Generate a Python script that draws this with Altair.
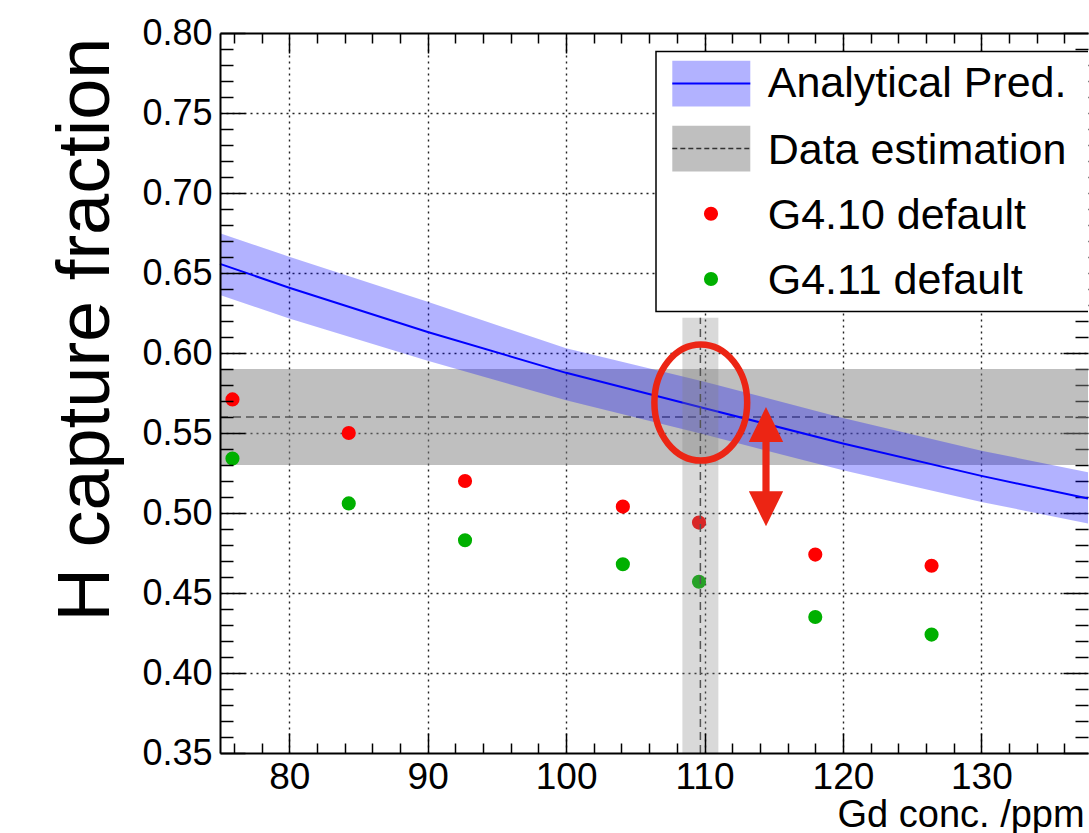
import altair as alt
import pandas as pd

# ---------------- data ----------------
gd_sim = [75.9, 84.3, 92.7, 104.1, 109.6, 118.0, 126.4]          # Gd conc. (ppm)
g4_10 = [0.571, 0.550, 0.520, 0.504, 0.494, 0.474, 0.467]        # G4.10 default
g4_11 = [0.534, 0.506, 0.483, 0.468, 0.457, 0.435, 0.424]        # G4.11 default

pred_x = [75, 80, 90, 100, 110, 120, 130, 137.7]
pred_mid = [0.6557, 0.6408, 0.6131, 0.5876, 0.5655, 0.5434, 0.5232, 0.5090]
pred_hi = [0.6748, 0.6602, 0.6320, 0.6029, 0.5820, 0.5594, 0.5389, 0.5255]
pred_lo = [0.6362, 0.6216, 0.5951, 0.5705, 0.5490, 0.5267, 0.5069, 0.4935]

data_est = [0.53, 0.56, 0.59]            # H fraction estimate: low, central, high
gd_meas = [108.4, 109.7, 111.0]          # measured Gd conc.: low, central, high
gd_meas_ytop = 0.622

ellipse_at = [109.73, 0.569]
arrow_at = [114.44, 0.529]

x_domain = [75, 137.7]
y_domain = [0.35, 0.80]
x_major = [80, 90, 100, 110, 120, 130]
x_minor = [v for v in range(76, 138, 2) if v % 10 != 0]
y_major = [round(0.35 + 0.05 * i, 2) for i in range(10)]
y_minor = [round(0.35 + 0.01 * i, 2) for i in range(46) if i % 5 != 0]
y_grid = [v for v in y_major if 0.36 < v < 0.79]

legend_labels = ["Analytical Pred.", "Data estimation", "G4.10 default", "G4.11 default"]

# ---------------- layout ----------------
W, H = 868, 720
FONT = "Liberation Sans"
RED = "#ec2514"
DOT = 200
XS = alt.Scale(domain=x_domain, nice=False, zero=False)
YS = alt.Scale(domain=y_domain, nice=False, zero=False)

one = pd.DataFrame({"k": [0]})


def xaxis_layer(values, **kw):
    base = dict(values=values, title=None, labels=False, ticks=False, grid=False,
                domain=False, labelFlush=False, labelOverlap=False)
    base.update(kw)
    return alt.Chart(pd.DataFrame({"v": values})).mark_point(opacity=0).encode(
        x=alt.X("v:Q", scale=XS, axis=alt.Axis(**base)))


def yaxis_layer(values, **kw):
    base = dict(values=values, title=None, labels=False, ticks=False, grid=False,
                domain=False, labelFlush=False, labelOverlap=False)
    base.update(kw)
    return alt.Chart(pd.DataFrame({"v": values})).mark_point(opacity=0).encode(
        y=alt.Y("v:Q", scale=YS, axis=alt.Axis(**base)))


tick_style = dict(ticks=True, tickColor="black", tickWidth=1.5)

axes = [
    # grids
    xaxis_layer(x_major, orient="bottom", grid=True, gridDash=[2, 4], gridColor="#222",
                gridWidth=1.4, zindex=0),
    yaxis_layer(y_grid, orient="left", grid=True, gridDash=[2, 4], gridColor="#222",
                gridWidth=1.4, zindex=0),
    # frame lines + titles
    xaxis_layer(x_major, orient="bottom", domain=True, domainColor="black", domainWidth=2,
                zindex=1, title="Gd conc. /ppm", titleFont=FONT, titleFontSize=38,
                titleFontWeight="normal", titleColor="black", titleAlign="left",
                titleX=617, titleY=73, titleBaseline="alphabetic"),
    xaxis_layer(x_major, orient="top", domain=True, domainColor="black", domainWidth=2, zindex=1),
    yaxis_layer(y_major, orient="left", domain=True, domainColor="black", domainWidth=2,
                zindex=1, title="H capture fraction", titleFont=FONT, titleFontSize=74,
                titleFontWeight="normal", titleColor="black", titleAngle=270,
                titleAlign="right", titleBaseline="alphabetic", titleX=-112, titleY=4),
    # bottom ticks + labels
    xaxis_layer(x_major, orient="bottom", tickSize=20, offset=-20, labels=True,
                labelFont=FONT, labelFontSize=37, labelColor="black", labelPadding=6,
                zindex=1, **tick_style),
    xaxis_layer(x_minor, orient="bottom", tickSize=10, offset=-10, zindex=1, **tick_style),
    # top ticks
    xaxis_layer(x_major, orient="top", tickSize=20, offset=-20, zindex=0, **tick_style),
    xaxis_layer(x_minor, orient="top", tickSize=10, offset=-10, zindex=0, **tick_style),
    # left ticks + labels
    yaxis_layer(y_major, orient="left", tickSize=25, offset=-25, labels=True, format=".2f",
                labelFont=FONT, labelFontSize=36, labelColor="black", labelPadding=8,
                zindex=1, **tick_style),
    yaxis_layer(y_minor, orient="left", tickSize=13, offset=-13, zindex=1, **tick_style),
    # right ticks
    yaxis_layer(y_major, orient="right", tickSize=25, offset=-25, zindex=0, **tick_style),
    yaxis_layer(y_minor, orient="right", tickSize=13, offset=-13, zindex=0, **tick_style),
]

# ---------------- data layers ----------------
est_df = pd.DataFrame({"lo": [data_est[0]], "mid": [data_est[1]], "hi": [data_est[2]]})
h_band = alt.Chart(est_df).mark_rect(color="#808080", opacity=0.5).encode(
    x=alt.value(0), x2=alt.value(W),
    y=alt.Y("lo:Q", scale=YS, axis=None), y2="hi:Q")
h_dash = alt.Chart(est_df).mark_rule(color="#555", strokeWidth=1.5, strokeDash=[8, 5]).encode(
    x=alt.value(0), x2=alt.value(W), y=alt.Y("mid:Q", scale=YS, axis=None))

pred_df = pd.DataFrame({"x": pred_x, "mid": pred_mid, "lo": pred_lo, "hi": pred_hi})
p_band = alt.Chart(pred_df).mark_area(color="blue", opacity=0.3).encode(
    x=alt.X("x:Q", scale=XS, axis=None),
    y=alt.Y("lo:Q", scale=YS, axis=None), y2="hi:Q")
p_line = alt.Chart(pred_df).mark_line(color="blue", strokeWidth=2).encode(
    x=alt.X("x:Q", scale=XS, axis=None), y=alt.Y("mid:Q", scale=YS, axis=None))

sim_df = pd.DataFrame({"x": gd_sim, "g410": g4_10, "g411": g4_11})
pts_red = alt.Chart(sim_df).mark_circle(color="#ff0000", size=DOT, opacity=1).encode(
    x=alt.X("x:Q", scale=XS, axis=None), y=alt.Y("g410:Q", scale=YS, axis=None))
pts_green = alt.Chart(sim_df).mark_circle(color="#00b000", size=DOT, opacity=1).encode(
    x=alt.X("x:Q", scale=XS, axis=None), y=alt.Y("g411:Q", scale=YS, axis=None))

meas_df = pd.DataFrame({"lo": [gd_meas[0]], "mid": [gd_meas[1]], "hi": [gd_meas[2]],
                        "ybot": [y_domain[0]], "ytop": [gd_meas_ytop]})
v_band = alt.Chart(meas_df).mark_rect(color="#808080", opacity=0.3).encode(
    x=alt.X("lo:Q", scale=XS, axis=None), x2="hi:Q",
    y=alt.Y("ybot:Q", scale=YS, axis=None), y2="ytop:Q")
v_dash = alt.Chart(meas_df).mark_rule(color="#555", strokeWidth=1.5, strokeDash=[8, 5]).encode(
    x=alt.X("mid:Q", scale=XS, axis=None),
    y=alt.Y("ybot:Q", scale=YS, axis=None), y2="ytop:Q")

ELLIPSE = "M0,-1 A0.8,1 0 1,1 0,1 A0.8,1 0 1,1 0,-1 Z"
ARROW = ("M0,-1 L0.288,-0.413 L0.06,-0.413 L0.06,0.413 L0.288,0.413 L0,1 "
         "L-0.288,0.413 L-0.06,0.413 L-0.06,-0.413 L-0.288,-0.413 Z")
ann_df = pd.DataFrame({"ex": [ellipse_at[0]], "ey": [ellipse_at[1]],
                       "ax": [arrow_at[0]], "ay": [arrow_at[1]]})
ellipse = alt.Chart(ann_df).mark_point(shape=ELLIPSE, size=13456, filled=False,
                                       strokeWidth=6.5, color=RED, opacity=1).encode(
    x=alt.X("ex:Q", scale=XS, axis=None), y=alt.Y("ey:Q", scale=YS, axis=None))
arrow = alt.Chart(ann_df).mark_point(shape=ARROW, size=14232, filled=True,
                                     strokeWidth=0, color=RED, opacity=1).encode(
    x=alt.X("ax:Q", scale=XS, axis=None), y=alt.Y("ay:Q", scale=YS, axis=None))

# ---------------- legend (drawn by hand) ----------------
leg = [
    alt.Chart(one).mark_rect(fill="white", stroke="black", strokeWidth=1.5, clip=True).encode(
        x=alt.value(436), x2=alt.value(W + 10), y=alt.value(18.4), y2=alt.value(278.4)),
    alt.Chart(one).mark_rect(color="blue", opacity=0.3).encode(
        x=alt.value(452.3), x2=alt.value(530.3), y=alt.value(27.7), y2=alt.value(73.4)),
    alt.Chart(one).mark_rule(color="blue", strokeWidth=2).encode(
        x=alt.value(452.3), x2=alt.value(530.3), y=alt.value(50.5)),
    alt.Chart(one).mark_rect(color="#808080", opacity=0.5).encode(
        x=alt.value(452.3), x2=alt.value(530.3), y=alt.value(92.7), y2=alt.value(138.4)),
    alt.Chart(one).mark_rule(color="#333", strokeWidth=1.5, strokeDash=[5, 3]).encode(
        x=alt.value(452.3), x2=alt.value(530.3), y=alt.value(115.5)),
    alt.Chart(one).mark_circle(color="#ff0000", size=DOT, opacity=1).encode(
        x=alt.value(491), y=alt.value(180.7)),
    alt.Chart(one).mark_circle(color="#00b000", size=DOT, opacity=1).encode(
        x=alt.value(491), y=alt.value(246)),
]
for label, yb in zip(legend_labels, [64, 130.7, 195.5, 261]):
    leg.append(alt.Chart(one).mark_text(align="left", baseline="alphabetic", fontSize=43,
                                        font=FONT, color="black").encode(
        x=alt.value(547.7), y=alt.value(yb), text=alt.value(label)))

chart = alt.layer(
    *axes, h_band, h_dash, p_band, p_line, pts_red, pts_green, v_band, v_dash,
    ellipse, arrow, *leg
).resolve_axis(x="independent", y="independent").properties(
    width=W, height=H,
    autosize=alt.AutoSizeParams(type="none"),
    padding={"left": 220, "top": 33, "right": 1, "bottom": 80},
).configure_view(stroke=None)

chart.save("out.html", embed_options={"renderer": "svg", "actions": False})
